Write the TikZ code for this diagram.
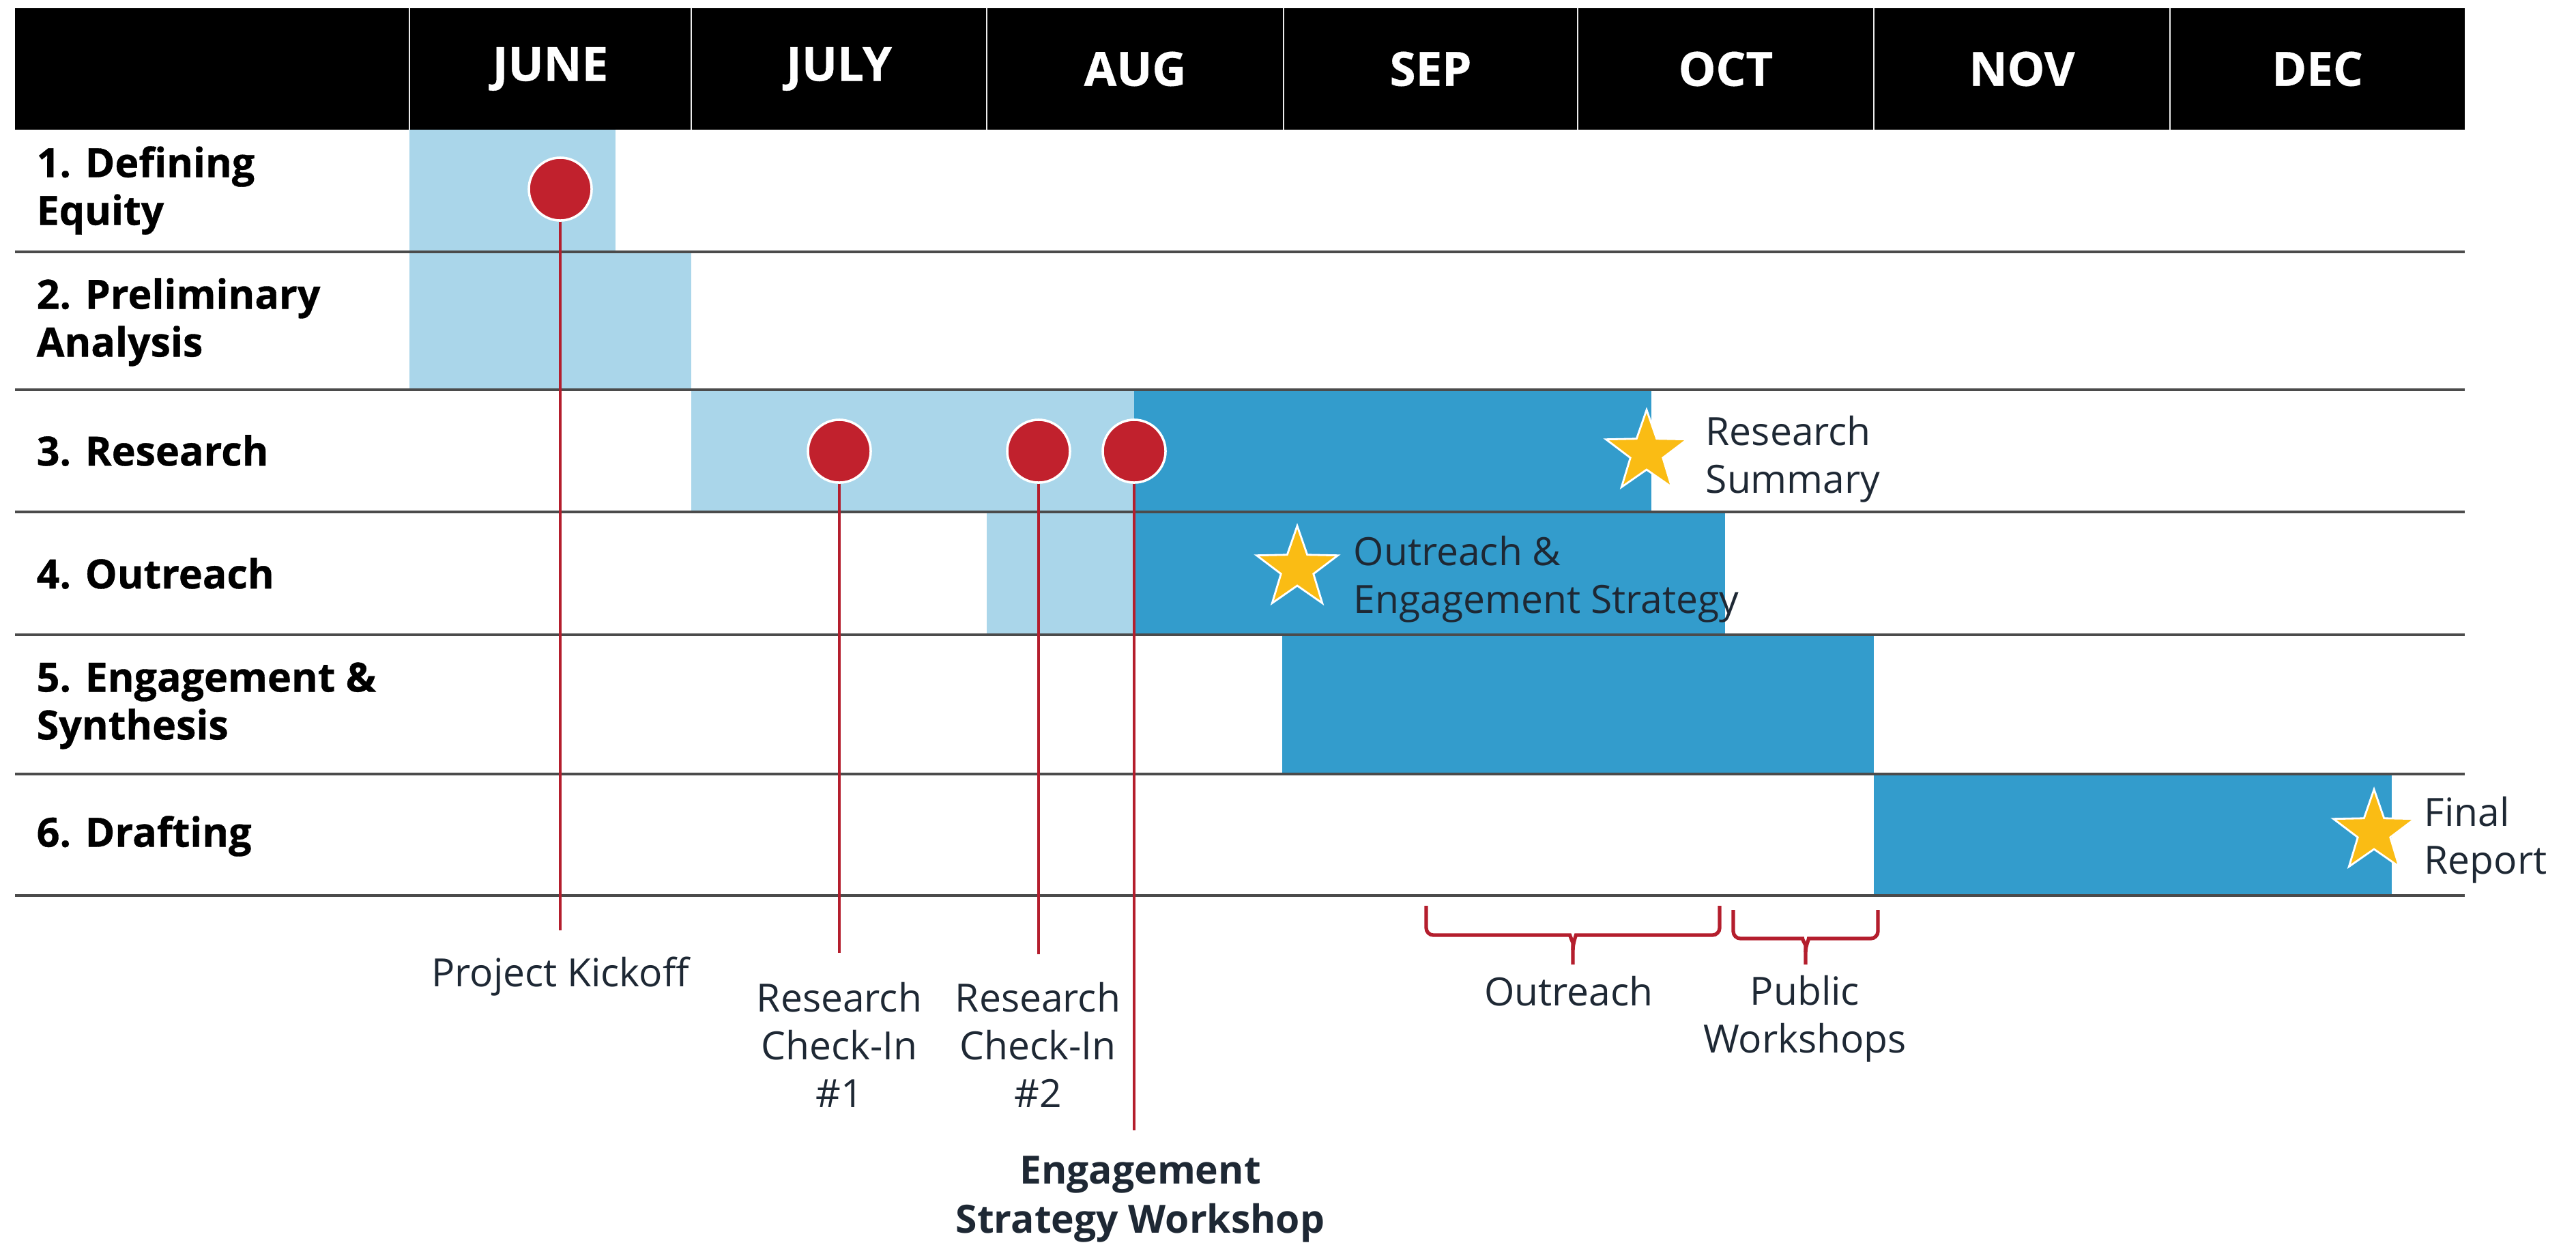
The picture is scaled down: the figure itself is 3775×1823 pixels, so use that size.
\documentclass[tikz,border=0pt]{standalone}
\usepackage{fontspec}
\setmainfont{Open Sans}
\newfontfamily\heavy{Open Sans}[BoldFeatures={FakeBold=0.6}]
\usepackage{tikz}
\usetikzlibrary{shapes.geometric}

\definecolor{lightbar}{RGB}{170,214,234}
\definecolor{darkbar}{RGB}{51,156,204}
\definecolor{dotred}{RGB}{193,33,45}
\definecolor{linered}{RGB}{180,30,45}
\definecolor{stargold}{RGB}{250,188,20}
\definecolor{labelink}{RGB}{30,40,52}
\definecolor{rulegray}{RGB}{75,75,75}

\tikzset{
  monthlbl/.style={text=white,inner sep=0pt,font=\heavy\bfseries\fontsize{19.6}{23}\selectfont},
  phaselbl/.style={anchor=west,align=left,inner sep=0pt,font=\heavy\bfseries\fontsize{16.8}{19.9}\selectfont},
  notelbl/.style={text=labelink,align=center,inner sep=0pt,font=\fontsize{16.2}{19.9}\selectfont},
  reddot/.style={circle,fill=dotred,draw=white,line width=1pt,minimum size=0.92cm,inner sep=0pt},
  goldstar/.style={star,star points=5,star point ratio=2.5,fill=stargold,draw=white,line width=0.8pt,minimum size=1.25cm,inner sep=0pt},
  stemline/.style={linered,line width=1.1pt},
  bracket/.style={linered,line width=1.5pt,rounded corners=3pt}
}

\begin{document}
\begin{tikzpicture}[x=0.01cm,y=-0.01cm]
\fill[white] (0,0) rectangle (3775,1823);
\fill[black] (22,12) rectangle (3612,190);
\foreach \x in {600,1013,1446,1881,2312,2746,3180}
  \draw[white!85!gray,line width=0.6pt] (\x,12) -- (\x,190);
\foreach \m/\a/\b in {JUNE/600/1013,JULY/1013/1446,AUG/1446/1881,SEP/1881/2312,OCT/2312/2746,NOV/2746/3180,DEC/3180/3612}
  \node[monthlbl] (\m) at ({(\a+\b)/2},101) {\m};

\fill[lightbar] (600,190) rectangle (902,369);
\fill[lightbar] (600,369) rectangle (1013,571);
\fill[lightbar] (1013,571) rectangle (1662,750);
\fill[darkbar] (1662,571) rectangle (2420,750);
\fill[lightbar] (1446,750) rectangle (1662,930);
\fill[darkbar] (1662,750) rectangle (2528,930);
\fill[darkbar] (1879,930) rectangle (2746,1134);
\fill[darkbar] (2746,1134) rectangle (3505,1312);
\foreach \y in {369,571,750,930,1134,1312}
  \draw[rulegray,line width=1.1pt] (22,\y) -- (3612,\y);

\node[phaselbl] (equity) at (53,279) {1. Defining\\Equity};
\node[phaselbl] (prelim) at (53,472) {2. Preliminary\\Analysis};
\node[phaselbl] (research) at (53,660) {3. Research};
\node[phaselbl] (outreach) at (53,840) {4. Outreach};
\node[phaselbl] (synthesis) at (53,1034) {5. Engagement \&\\Synthesis};
\node[phaselbl] (drafting) at (53,1225) {6. Drafting};

\node[reddot] (kickoff) at (821,277) {};
\node[reddot] (checkone) at (1230,661) {};
\node[reddot] (checktwo) at (1522,661) {};
\node[reddot] (workshop) at (1662,661) {};
\coordinate (kickoffend) at (821,1363);
\coordinate (checkoneend) at (1230,1396);
\coordinate (checktwoend) at (1522,1398);
\coordinate (workshopend) at (1662,1656);
\foreach \from/\to in {kickoff/kickoffend,checkone/checkoneend,checktwo/checktwoend,workshop/workshopend}
  \draw[stemline] (\from) -- (\to);

\node[notelbl] (kickofflbl) at (821,1431) {Project Kickoff};
\node[notelbl] (checkonelbl) at (1230,1531) {Research\\Check-In\\\#1};
\node[notelbl] (checktwolbl) at (1521,1531) {Research\\Check-In\\\#2};
\node[notelbl,font=\bfseries\fontsize{16.2}{20.5}\selectfont] (workshoplbl) at (1671,1757) {Engagement\\Strategy Workshop};

\node[goldstar] (summarystar) at (2413,663) {};
\node[goldstar] (strategystar) at (1901,833) {};
\node[goldstar] (reportstar) at (3479,1219) {};
\node[notelbl,align=left,anchor=west] (summarylbl) at (2499,673) {Research\\Summary};
\node[notelbl,align=left,anchor=west] (strategylbl) at (1983,849) {Outreach \&\\Engagement Strategy};
\node[notelbl,align=left,anchor=west] (reportlbl) at (3552,1231) {Final\\Report};

\draw[bracket] (2090,1327) |- (2290,1370) to[out=0,in=90] (2305,1392) -- (2305,1413);
\draw[bracket] (2520,1327) |- (2320,1370) to[out=180,in=90] (2305,1392);
\draw[bracket] (2540,1333) |- (2631,1375) to[out=0,in=90] (2646,1395) -- (2646,1413);
\draw[bracket] (2752,1333) |- (2661,1375) to[out=180,in=90] (2646,1395);
\node[notelbl] (outreachlbl) at (2299,1452) {Outreach};
\node[notelbl] (publiclbl) at (2645,1493) {Public\\Workshops};
\end{tikzpicture}
\end{document}
